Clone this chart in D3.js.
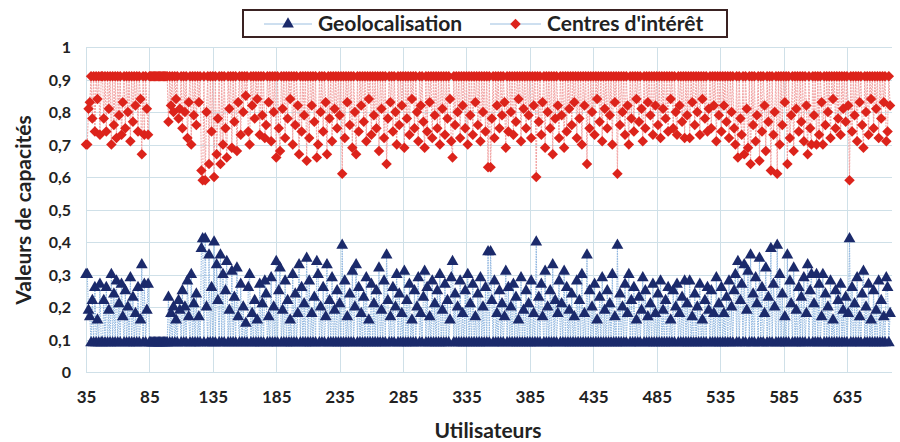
<!DOCTYPE html>
<html>
<head>
<meta charset="utf-8">
<script src="https://cdn.jsdelivr.net/npm/d3@7"></script>
<style>
  body { margin: 0; background: #fff; }
  text { font-family: Lato, "Open Sans", sans-serif; font-weight: bold; fill: #222; }
</style>
</head>
<body>
<div class="canva"></div>
<script>
const width = 900
const height = 442

// users 35..669 (one per category)
const users = d3.range(35, 670)
const xTicks = [35, 85, 135, 185, 235, 285, 335, 385, 435, 485, 535, 585, 635]
const yTicks = [0, 0.1, 0.2, 0.3, 0.4, 0.5, 0.6, 0.7, 0.8, 0.9, 1]
const seriesNames = ["Geolocalisation", "Centres d'intérêt"]

const geolocalisation = [
  0.30,0.30,0.19,0.17,0.09,0.22,0.09,0.26,0.09,0.16,0.09,0.27,0.09,0.09,0.22,0.09,0.26,0.09,0.19,0.09,0.30,0.09,0.24,0.09,0.28,
  0.09,0.21,0.09,0.27,0.17,0.09,0.25,0.09,0.20,0.09,0.29,0.09,0.23,0.09,0.18,0.09,0.26,0.09,0.16,0.33,0.09,0.27,0.09,0.19,0.27,
  0.09,0.09,0.09,0.09,0.09,0.09,0.09,0.09,0.09,0.09,0.09,0.09,0.09,0.09,0.09,0.23,0.09,0.18,0.09,0.20,0.09,0.16,0.09,0.22,0.19,
  0.09,0.25,0.09,0.20,0.09,0.28,0.17,0.09,0.30,0.09,0.21,0.09,0.24,0.09,0.17,0.09,0.38,0.41,0.09,0.41,0.20,0.09,0.36,0.09,0.26,
  0.09,0.40,0.09,0.33,0.22,0.09,0.36,0.09,0.30,0.09,0.25,0.34,0.09,0.19,0.09,0.31,0.09,0.23,0.09,0.32,0.17,0.09,0.27,0.09,0.20,
  0.09,0.15,0.09,0.26,0.30,0.09,0.18,0.09,0.22,0.09,0.16,0.09,0.27,0.09,0.21,0.09,0.28,0.24,0.09,0.17,0.09,0.29,0.09,0.20,0.09,
  0.34,0.09,0.25,0.32,0.09,0.19,0.09,0.28,0.09,0.22,0.09,0.16,0.09,0.30,0.09,0.24,0.09,0.18,0.33,0.09,0.26,0.09,0.21,0.09,0.35,
  0.09,0.28,0.09,0.18,0.09,0.23,0.09,0.34,0.30,0.09,0.20,0.09,0.26,0.09,0.17,0.33,0.09,0.22,0.09,0.29,0.09,0.19,0.09,0.25,0.09,
  0.21,0.09,0.39,0.09,0.28,0.09,0.17,0.09,0.24,0.09,0.31,0.09,0.20,0.33,0.09,0.26,0.09,0.18,0.09,0.23,0.09,0.29,0.09,0.16,0.09,
  0.27,0.09,0.21,0.09,0.25,0.09,0.32,0.09,0.19,0.09,0.28,0.09,0.36,0.22,0.09,0.17,0.09,0.26,0.09,0.20,0.30,0.09,0.24,0.09,0.18,
  0.09,0.31,0.09,0.22,0.09,0.27,0.09,0.16,0.09,0.25,0.09,0.20,0.29,0.09,0.18,0.09,0.23,0.31,0.09,0.26,0.09,0.17,0.09,0.28,0.09,
  0.21,0.09,0.25,0.09,0.30,0.09,0.19,0.09,0.27,0.09,0.22,0.09,0.16,0.29,0.34,0.09,0.24,0.09,0.20,0.09,0.28,0.09,0.18,0.09,0.25,
  0.09,0.30,0.09,0.21,0.09,0.27,0.09,0.17,0.09,0.24,0.09,0.29,0.09,0.20,0.09,0.26,0.09,0.37,0.09,0.37,0.22,0.09,0.28,0.09,0.18,
  0.09,0.25,0.09,0.21,0.09,0.17,0.31,0.09,0.26,0.09,0.20,0.09,0.27,0.09,0.23,0.09,0.16,0.09,0.29,0.09,0.19,0.09,0.25,0.09,0.21,
  0.09,0.28,0.09,0.18,0.09,0.40,0.09,0.23,0.09,0.27,0.17,0.09,0.31,0.09,0.20,0.09,0.25,0.09,0.33,0.09,0.22,0.09,0.18,0.28,0.09,
  0.21,0.09,0.31,0.09,0.26,0.09,0.19,0.09,0.24,0.09,0.17,0.09,0.28,0.09,0.22,0.09,0.30,0.09,0.18,0.09,0.36,0.09,0.25,0.09,0.20,
  0.09,0.27,0.09,0.16,0.09,0.23,0.09,0.29,0.09,0.19,0.09,0.25,0.09,0.21,0.09,0.30,0.09,0.17,0.09,0.39,0.09,0.24,0.09,0.20,0.09,
  0.27,0.09,0.18,0.30,0.09,0.22,0.09,0.26,0.09,0.16,0.09,0.23,0.09,0.19,0.29,0.09,0.25,0.09,0.17,0.09,0.21,0.09,0.27,0.09,0.18,
  0.09,0.24,0.09,0.28,0.09,0.19,0.09,0.22,0.09,0.26,0.09,0.16,0.09,0.25,0.09,0.20,0.27,0.09,0.18,0.09,0.23,0.09,0.28,0.09,0.21,
  0.09,0.28,0.09,0.17,0.09,0.24,0.09,0.20,0.09,0.27,0.09,0.16,0.09,0.22,0.09,0.26,0.19,0.09,0.25,0.09,0.18,0.09,0.29,0.09,0.21,
  0.09,0.26,0.09,0.18,0.09,0.23,0.09,0.28,0.09,0.20,0.09,0.25,0.30,0.09,0.34,0.09,0.22,0.27,0.09,0.33,0.09,0.19,0.31,0.09,0.36,
  0.09,0.24,0.09,0.29,0.21,0.09,0.35,0.09,0.26,0.09,0.18,0.32,0.09,0.23,0.09,0.38,0.09,0.27,0.20,0.09,0.39,0.09,0.30,0.09,0.24,
  0.09,0.17,0.09,0.36,0.09,0.28,0.21,0.09,0.32,0.09,0.19,0.09,0.26,0.09,0.23,0.09,0.29,0.09,0.18,0.33,0.09,0.25,0.30,0.09,0.21,
  0.09,0.30,0.09,0.27,0.09,0.17,0.30,0.09,0.24,0.09,0.20,0.09,0.28,0.09,0.16,0.09,0.25,0.09,0.22,0.09,0.27,0.09,0.19,0.09,0.23,
  0.09,0.18,0.41,0.09,0.26,0.09,0.21,0.09,0.29,0.09,0.17,0.09,0.24,0.31,0.09,0.20,0.09,0.27,0.09,0.16,0.09,0.25,0.09,0.19,0.09,
  0.28,0.09,0.22,0.09,0.17,0.09,0.29,0.26,0.09,0.18
]

const centresInteret = [
  0.70,0.70,0.81,0.83,0.91,0.78,0.91,0.74,0.91,0.84,0.91,0.73,0.91,0.91,0.78,0.91,0.74,0.91,0.81,0.91,0.70,0.91,0.76,0.91,0.72,
  0.91,0.79,0.91,0.73,0.83,0.91,0.75,0.91,0.80,0.91,0.71,0.91,0.77,0.91,0.82,0.91,0.74,0.91,0.84,0.67,0.91,0.73,0.91,0.81,0.73,
  0.91,0.91,0.91,0.91,0.91,0.91,0.91,0.91,0.91,0.91,0.91,0.91,0.91,0.91,0.91,0.77,0.91,0.82,0.91,0.80,0.91,0.84,0.91,0.78,0.81,
  0.91,0.75,0.91,0.80,0.91,0.72,0.83,0.91,0.70,0.91,0.79,0.91,0.76,0.91,0.83,0.91,0.62,0.59,0.91,0.59,0.80,0.91,0.64,0.91,0.74,
  0.91,0.60,0.91,0.67,0.78,0.91,0.64,0.91,0.70,0.91,0.75,0.66,0.91,0.81,0.91,0.69,0.91,0.77,0.91,0.68,0.83,0.91,0.73,0.91,0.80,
  0.91,0.85,0.91,0.74,0.70,0.91,0.82,0.91,0.78,0.91,0.84,0.91,0.73,0.91,0.79,0.91,0.72,0.76,0.91,0.83,0.91,0.71,0.91,0.80,0.91,
  0.66,0.91,0.75,0.68,0.91,0.81,0.91,0.72,0.91,0.78,0.91,0.84,0.91,0.70,0.91,0.76,0.91,0.82,0.67,0.91,0.74,0.91,0.79,0.91,0.65,
  0.91,0.72,0.91,0.82,0.91,0.77,0.91,0.66,0.70,0.91,0.80,0.91,0.74,0.91,0.83,0.67,0.91,0.78,0.91,0.71,0.91,0.81,0.91,0.75,0.91,
  0.79,0.91,0.61,0.91,0.72,0.91,0.83,0.91,0.76,0.91,0.69,0.91,0.80,0.67,0.91,0.74,0.91,0.82,0.91,0.77,0.91,0.71,0.91,0.84,0.91,
  0.73,0.91,0.79,0.91,0.75,0.91,0.68,0.91,0.81,0.91,0.72,0.91,0.64,0.78,0.91,0.83,0.91,0.74,0.91,0.80,0.70,0.91,0.76,0.91,0.82,
  0.91,0.69,0.91,0.78,0.91,0.73,0.91,0.84,0.91,0.75,0.91,0.80,0.71,0.91,0.82,0.91,0.77,0.69,0.91,0.74,0.91,0.83,0.91,0.72,0.91,
  0.79,0.91,0.75,0.91,0.70,0.91,0.81,0.91,0.73,0.91,0.78,0.91,0.84,0.71,0.66,0.91,0.76,0.91,0.80,0.91,0.72,0.91,0.82,0.91,0.75,
  0.91,0.70,0.91,0.79,0.91,0.73,0.91,0.83,0.91,0.76,0.91,0.71,0.91,0.80,0.91,0.74,0.91,0.63,0.91,0.63,0.78,0.91,0.72,0.91,0.82,
  0.91,0.75,0.91,0.79,0.91,0.83,0.69,0.91,0.74,0.91,0.80,0.91,0.73,0.91,0.77,0.91,0.84,0.91,0.71,0.91,0.81,0.91,0.75,0.91,0.79,
  0.91,0.72,0.91,0.82,0.91,0.60,0.91,0.77,0.91,0.73,0.83,0.91,0.69,0.91,0.80,0.91,0.75,0.91,0.67,0.91,0.78,0.91,0.82,0.72,0.91,
  0.79,0.91,0.69,0.91,0.74,0.91,0.81,0.91,0.76,0.91,0.83,0.91,0.72,0.91,0.78,0.91,0.70,0.91,0.82,0.91,0.64,0.91,0.75,0.91,0.80,
  0.91,0.73,0.91,0.84,0.91,0.77,0.91,0.71,0.91,0.81,0.91,0.75,0.91,0.79,0.91,0.70,0.91,0.83,0.91,0.61,0.91,0.76,0.91,0.80,0.91,
  0.73,0.91,0.82,0.70,0.91,0.78,0.91,0.74,0.91,0.84,0.91,0.77,0.91,0.81,0.71,0.91,0.75,0.91,0.83,0.91,0.79,0.91,0.73,0.91,0.82,
  0.91,0.76,0.91,0.72,0.91,0.81,0.91,0.78,0.91,0.74,0.91,0.84,0.91,0.75,0.91,0.80,0.73,0.91,0.82,0.91,0.77,0.91,0.72,0.91,0.79,
  0.91,0.72,0.91,0.83,0.91,0.76,0.91,0.80,0.91,0.73,0.91,0.84,0.91,0.78,0.91,0.74,0.81,0.91,0.75,0.91,0.82,0.91,0.71,0.91,0.79,
  0.91,0.74,0.91,0.82,0.91,0.77,0.91,0.72,0.91,0.80,0.91,0.75,0.70,0.91,0.66,0.91,0.78,0.73,0.91,0.67,0.91,0.81,0.69,0.91,0.64,
  0.91,0.76,0.91,0.71,0.79,0.91,0.65,0.91,0.74,0.91,0.82,0.68,0.91,0.77,0.91,0.62,0.91,0.73,0.80,0.91,0.61,0.91,0.70,0.91,0.76,
  0.91,0.83,0.91,0.64,0.91,0.72,0.79,0.91,0.68,0.91,0.81,0.91,0.74,0.91,0.77,0.91,0.71,0.91,0.82,0.67,0.91,0.75,0.70,0.91,0.79,
  0.91,0.70,0.91,0.73,0.91,0.83,0.70,0.91,0.76,0.91,0.80,0.91,0.72,0.91,0.84,0.91,0.75,0.91,0.78,0.91,0.73,0.91,0.81,0.91,0.77,
  0.91,0.82,0.59,0.91,0.74,0.91,0.79,0.91,0.71,0.91,0.83,0.91,0.76,0.69,0.91,0.80,0.91,0.73,0.91,0.84,0.91,0.75,0.91,0.81,0.91,
  0.72,0.91,0.78,0.91,0.83,0.91,0.71,0.74,0.91,0.82
]

const margin = { top: 47, right: 8, bottom: 70, left: 86 }

const svg = d3.select(".canva").append("svg")
  .attr("width", width).attr("height", height)

const x = d3.scaleLinear().domain([35, 670.5]).range([margin.left, width - margin.right])
const y = d3.scaleLinear().domain([0, 1]).range([height - margin.bottom, margin.top])

// grid
const grid = svg.append("g").attr("stroke", "#cfe0e8").attr("stroke-width", 1)
grid.selectAll(".h").data(yTicks).enter().append("line")
  .attr("x1", margin.left).attr("x2", width - margin.right)
  .attr("y1", d => Math.round(y(d)) + 0.5).attr("y2", d => Math.round(y(d)) + 0.5)
grid.selectAll(".v").data(xTicks).enter().append("line")
  .attr("x1", d => Math.round(x(d)) + 0.5).attr("x2", d => Math.round(x(d)) + 0.5)
  .attr("y1", margin.top).attr("y2", height - margin.bottom)

// axes (labels only)
const fmt = d => d === 0 ? "0" : d === 1 ? "1" : d3.format(".1f")(d).replace(".", ",")
const yAxis = svg.append("g").attr("transform", `translate(${margin.left - 15},0)`)
  .call(d3.axisLeft(y).tickValues(yTicks).tickFormat(fmt).tickSize(0))
yAxis.select(".domain").remove()
yAxis.selectAll("text").style("font-size", "16px").attr("fill", "#222").attr("dy", "0.35em").attr("x", 0)

const xAxis = svg.append("g").attr("transform", `translate(0,${height - margin.bottom + 16})`)
  .call(d3.axisBottom(x).tickValues(xTicks).tickFormat(d3.format("d")).tickSize(0))
xAxis.select(".domain").remove()
xAxis.selectAll("text").style("font-size", "17px").attr("fill", "#222").attr("dy", "0.7em")

svg.append("text").attr("x", 488).attr("y", 438).attr("text-anchor", "middle")
  .style("font-size", "21px").text("Utilisateurs")
svg.append("text").attr("transform", "translate(31,210) rotate(-90)").attr("text-anchor", "middle")
  .style("font-size", "21px").text("Valeurs de capacités")

// series
const series = [
  { name: seriesNames[0], values: geolocalisation, line: "#8fb6e0", dash: "1.5,1", fill: "#1b2a6b",
    symbol: d3.symbol().type(d3.symbolTriangle).size(60), rot: 0 },
  { name: seriesNames[1], values: centresInteret, line: "#f2a3a3", dash: "2,1", fill: "#dc231b",
    symbol: d3.symbol().type(d3.symbolSquare).size(55), rot: 45 }
]

const line = d3.line().x(d => x(d.u)).y(d => y(d.v))

series.forEach(s => {
  const pts = users.map((u, i) => ({ u, v: s.values[i] }))
  svg.append("path").datum(pts)
    .attr("d", line).attr("fill", "none")
    .attr("stroke", s.line).attr("stroke-width", 1).attr("stroke-dasharray", s.dash)
  svg.append("g").selectAll("path").data(pts).enter().append("path")
    .attr("d", s.symbol)
    .attr("transform", d => `translate(${x(d.u)},${y(d.v)}) rotate(${s.rot})`)
    .attr("fill", s.fill)
})

// legend
const lg = svg.append("g")
lg.append("rect").attr("x", 243).attr("y", 10).attr("width", 484).attr("height", 27)
  .attr("fill", "#fff").attr("stroke", "#3a2222").attr("stroke-width", 2)
const legendX = [{ x0: 264, x1: 312, tx: 318 }, { x0: 490, x1: 541, tx: 547 }]
series.forEach((s, i) => {
  const p = legendX[i]
  lg.append("line").attr("x1", p.x0).attr("x2", p.x1).attr("y1", 24).attr("y2", 24)
    .attr("stroke", "#9cbfe0").attr("stroke-width", 1)
  lg.append("path").attr("d", s.symbol)
    .attr("transform", `translate(${(p.x0 + p.x1) / 2},24) rotate(${s.rot})`).attr("fill", s.fill)
  lg.append("text").attr("x", p.tx).attr("y", 24).attr("dy", "0.35em")
    .style("font-size", "21px").text(s.name)
})
</script>
</body>
</html>
